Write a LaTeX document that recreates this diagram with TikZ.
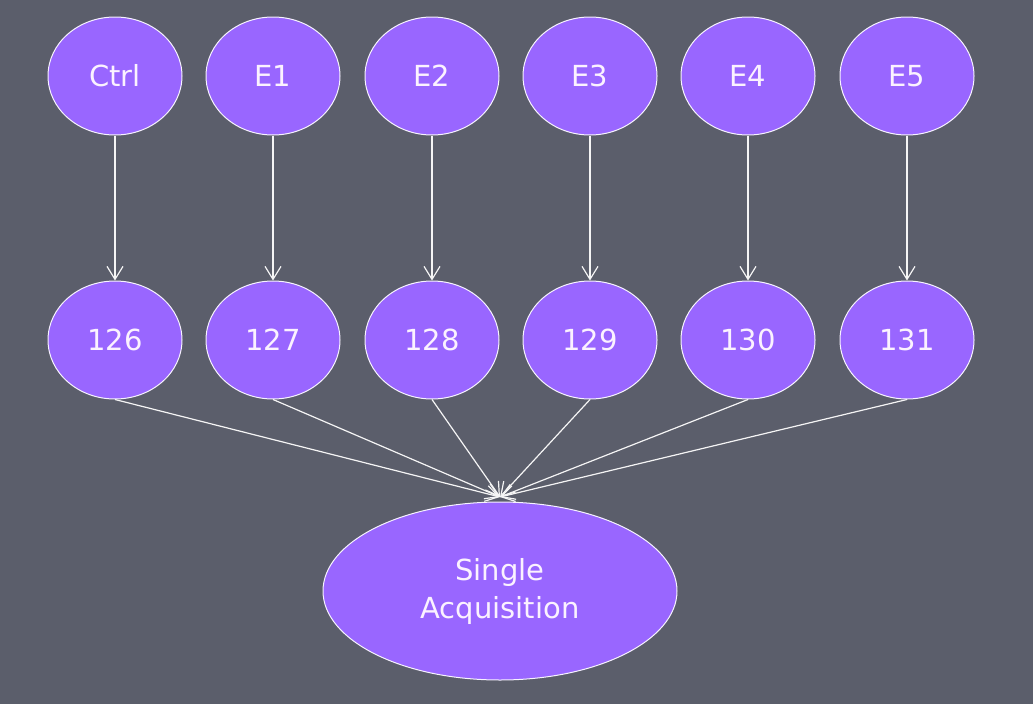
\documentclass[tikz,border=0pt]{standalone}
\usepackage{fontspec}
\setmainfont{DejaVu Sans}
\usetikzlibrary{shapes.geometric,arrows.meta}
\definecolor{hgrund}{HTML}{5B5E6B}
\definecolor{lila}{HTML}{9966FF}
\definecolor{schrift}{HTML}{FBF2FF}
\tikzset{
	kreis/.style={ellipse, draw=white!92!lila, line width=1pt, fill=lila, text=schrift,
		font=\fontsize{29}{38}\selectfont, inner sep=0pt,
		minimum width=134pt, minimum height=118pt},
	pfeil/.style={white!92!gray, line width=1.2pt, -{Straight Barb[length=13pt,width=16pt]}}
}
\begin{document}
\begin{tikzpicture}[x=1pt, y=-1pt]
		% Hintergrund
		\fill[hgrund] (0, 0) rectangle (1033, 704);
		\useasboundingbox (0, 0) rectangle (1033, 704);
		% Obere Reihe
		\node[kreis] (ctrl) at (115, 76) {Ctrl};
		\node[kreis] (e1) at (273, 76) {E1};
		\node[kreis] (e2) at (432, 76) {E2};
		\node[kreis] (e3) at (590, 76) {E3};
		\node[kreis] (e4) at (748, 76) {E4};
		\node[kreis] (e5) at (907, 76) {E5};
		% Mittlere Reihe
		\node[kreis] (n126) at (115, 340) {126};
		\node[kreis] (n127) at (273, 340) {127};
		\node[kreis] (n128) at (432, 340) {128};
		\node[kreis] (n129) at (590, 340) {129};
		\node[kreis] (n130) at (748, 340) {130};
		\node[kreis] (n131) at (907, 340) {131};
		% Unterer Kasten
		\node[kreis, minimum width=354pt, minimum height=178pt, align=center] (single) at (500, 591) {Single\\Acquisition};
		\coordinate (ziel) at (500, 497);
		% Pfeile
		\draw[pfeil] (ctrl) -- (n126);
		\draw[pfeil] (e1) -- (n127);
		\draw[pfeil] (e2) -- (n128);
		\draw[pfeil] (e3) -- (n129);
		\draw[pfeil] (e4) -- (n130);
		\draw[pfeil] (e5) -- (n131);
		\draw[pfeil] (n126.south) -- (ziel);
		\draw[pfeil] (n127.south) -- (ziel);
		\draw[pfeil] (n128.south) -- (ziel);
		\draw[pfeil] (n129.south) -- (ziel);
		\draw[pfeil] (n130.south) -- (ziel);
		\draw[pfeil] (n131.south) -- (ziel);
	\end{tikzpicture}
\end{document}
